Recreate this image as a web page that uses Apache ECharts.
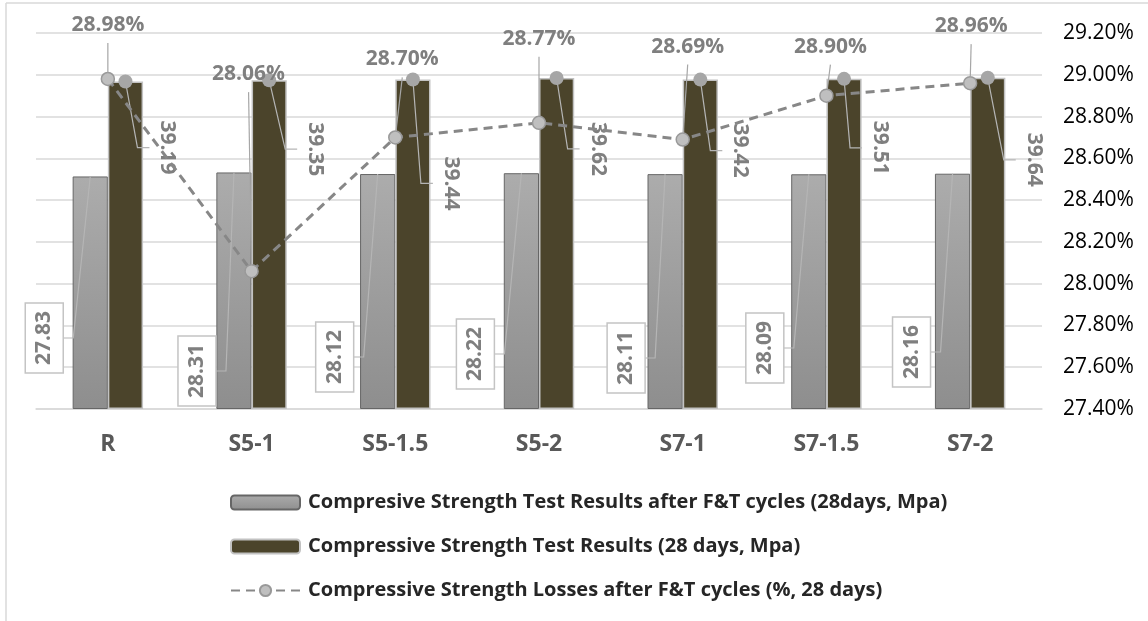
<!DOCTYPE html>
<html>
<head>
<meta charset="utf-8">
<script src="https://cdn.jsdelivr.net/npm/echarts@6/dist/echarts.min.js"></script>
<style>
  html, body { margin: 0; padding: 0; background: #ffffff; }
  #chart { width: 1148px; height: 621px; }
</style>
</head>
<body>
<div id="chart"></div>
<script>
// ---- data ----
const categories = ['R', 'S5-1', 'S5-1.5', 'S5-2', 'S7-1', 'S7-1.5', 'S7-2'];
const strengthAfterFT = [27.83, 28.31, 28.12, 28.22, 28.11, 28.09, 28.16];   // MPa
const strength28d     = [39.19, 39.35, 39.44, 39.62, 39.42, 39.51, 39.64];   // MPa
const strengthLoss    = [28.98, 28.06, 28.70, 28.77, 28.69, 28.90, 28.96];   // %

// secondary (percent) axis range
const lossAxisMin = 27.4;
const lossAxisMax = 29.2;
const lossAxisStep = 0.2;
// hidden strength axis range
const strengthAxisMax = 45;

const seriesNames = [
  'Compresive Strength Test Results after F&T cycles (28days, Mpa)',
  'Compressive Strength Test Results (28 days, Mpa)',
  'Compressive Strength Losses after F&T cycles (%, 28 days)'
];

// ---- label placement (pixel offsets) ----
const lightNoteDx = [-46, -37, -43, -46, -39, -44, -41];  // box centre vs light bar centre
const lightNoteDy = [-71, -38, -52, -55, -51, -61, -57];  // box centre vs axis base
const darkNoteDx  = [42, 46, 38, 41, 40, 36, 46];         // text centre vs dark bar centre
const darkNoteDy  = [66, 69, 104, 71, 71, 69, 82];        // text centre vs dark bar top
const lossNoteDx  = [0, -3, 7, 0, 5, 4, 1];
const lossNoteDy  = [-54, -197, -78, -84, -93, -49, -57];

const FONT = '"Open Sans", sans-serif';
const CAT_GAP = 0.51;
const NOTE_GREY = '#7f7f7f';
const LEADER = '#b5b5b5';

function renderBarNotes(params, api) {
  const i = api.value(0);
  const band = api.size([1, 0])[0];
  const barW = band * (1 - CAT_GAP) / 2;
  const basePt = api.coord([i, 0]);
  const cx = basePt[0], base = basePt[1];
  const lightX = cx - barW / 2;
  const darkX = cx + barW / 2;
  const lightVal = api.value(1), darkVal = api.value(2);
  const lightTop = api.coord([i, lightVal])[1];
  const darkTop = api.coord([i, darkVal])[1];
  const bx = lightX + lightNoteDx[i], by = base + lightNoteDy[i];
  const tx = darkX + darkNoteDx[i], ty = darkTop + darkNoteDy[i];
  const font = 'bold 21px ' + FONT;
  return {
    type: 'group',
    children: [
      { type: 'polyline', shape: { points: [[bx + 19, by], [bx + 29, by], [lightX, lightTop]] },
        style: { stroke: LEADER, lineWidth: 1.2, fill: null } },
      { type: 'rect', shape: { x: bx - 19, y: by - 35, width: 38, height: 70 },
        style: { fill: '#ffffff', stroke: '#c4c4c4', lineWidth: 1.5 } },
      { type: 'text', x: bx, y: by, rotation: Math.PI / 2,
        style: { text: lightVal.toFixed(2), font: font, fill: NOTE_GREY, align: 'center', verticalAlign: 'middle' } },
      { type: 'polyline', shape: { points: [[darkX, darkTop], [tx - 30, ty], [tx - 18, ty]] },
        style: { stroke: LEADER, lineWidth: 1.2, fill: null } },
      { type: 'circle', shape: { cx: darkX, cy: darkTop, r: 7 },
        style: { fill: '#a6a6a6' } },
      { type: 'text', x: tx, y: ty, rotation: -Math.PI / 2,
        style: { text: darkVal.toFixed(2), font: font, fill: NOTE_GREY, align: 'center', verticalAlign: 'middle' } }
    ]
  };
}

function renderLossNotes(params, api) {
  const i = api.value(0);
  const v = api.value(1);
  const p = api.coord([i, v]);
  const tx = p[0] + lossNoteDx[i], ty = p[1] + lossNoteDy[i];
  const sx = tx, sy = ty + 18;
  const vx = p[0] - sx, vy = p[1] - sy;
  const len = Math.sqrt(vx * vx + vy * vy) || 1;
  const ex = p[0] - vx / len * 6.5, ey = p[1] - vy / len * 6.5;
  return {
    type: 'group',
    children: [
      { type: 'line', shape: { x1: sx, y1: sy, x2: ex, y2: ey },
        style: { stroke: '#a6a6a6', lineWidth: 1.2 } },
      { type: 'text', x: tx, y: ty,
        style: { text: v.toFixed(2) + '%', font: 'bold 21px ' + FONT, fill: NOTE_GREY,
                 align: 'center', verticalAlign: 'middle' } }
    ]
  };
}

const chart = echarts.init(document.getElementById('chart'), null, { renderer: 'canvas' });

chart.setOption({
  animation: false,
  backgroundColor: '#ffffff',
  graphic: [
    { type: 'line', shape: { x1: 6, y1: 3, x2: 1148, y2: 3 }, style: { stroke: '#d9d9d9', lineWidth: 1.5 }, silent: true },
    { type: 'line', shape: { x1: 6, y1: 3, x2: 6, y2: 621 }, style: { stroke: '#d9d9d9', lineWidth: 1.5 }, silent: true }
  ],
  grid: { left: 36, right: 106, top: 33, bottom: 212, containLabel: false },
  legend: {
    data: seriesNames,
    orient: 'vertical',
    left: 225,
    top: 487,
    itemWidth: 69,
    itemHeight: 14,
    itemGap: 23,
    textStyle: { fontFamily: FONT, fontWeight: 'bold', fontSize: 20, color: '#262626', lineHeight: 21, padding: [0, 0, 0, 3] }
  },
  xAxis: {
    type: 'category',
    data: categories,
    axisLine: { show: true, lineStyle: { color: '#d9d9d9', width: 1.5 } },
    axisTick: { show: false },
    axisLabel: { margin: 24, fontFamily: FONT, fontWeight: 'bold', fontSize: 23, color: '#595959' }
  },
  yAxis: [
    { type: 'value', min: 0, max: strengthAxisMax, show: false, splitLine: { show: false } },
    {
      type: 'value', position: 'right',
      min: lossAxisMin, max: lossAxisMax, interval: lossAxisStep,
      axisLine: { show: false }, axisTick: { show: false },
      splitLine: { show: true, lineStyle: { color: '#d9d9d9', width: 1.5 } },
      axisLabel: { margin: 21, fontFamily: FONT, fontSize: 21, color: '#000000',
                   formatter: v => v.toFixed(2) + '%' }
    }
  ],
  series: [
    {
      name: seriesNames[0], type: 'bar', yAxisIndex: 0, z: 2,
      barGap: '0%', barCategoryGap: (CAT_GAP * 100) + '%',
      data: strengthAfterFT,
      itemStyle: {
        color: new echarts.graphic.LinearGradient(0, 0, 0, 1, [
          { offset: 0, color: '#acacac' }, { offset: 1, color: '#8e8e8e' }
        ]),
        borderColor: '#666666', borderWidth: 1
      }
    },
    {
      name: seriesNames[1], type: 'bar', yAxisIndex: 0, z: 2,
      data: strength28d,
      itemStyle: { color: '#4b442b', borderColor: '#c2c2c2', borderWidth: 1.5 }
    },
    {
      type: 'custom', name: 'strengthNotes', yAxisIndex: 0, z: 3,
      data: categories.map((c, i) => [i, strengthAfterFT[i], strength28d[i]]),
      encode: { x: 0, y: 2 },
      renderItem: renderBarNotes,
      silent: true
    },
    {
      name: seriesNames[2], type: 'line', yAxisIndex: 1, z: 4,
      data: strengthLoss,
      symbol: 'circle', symbolSize: 13,
      lineStyle: { color: '#878787', width: 3, type: [9, 6] },
      itemStyle: { color: '#bfbfbf', borderColor: '#999999', borderWidth: 1.5 }
    },
    {
      type: 'custom', name: 'lossNotes', yAxisIndex: 1, z: 5,
      data: categories.map((c, i) => [i, strengthLoss[i]]),
      encode: { x: 0, y: 1 },
      renderItem: renderLossNotes,
      silent: true
    }
  ]
});
</script>
</body>
</html>
